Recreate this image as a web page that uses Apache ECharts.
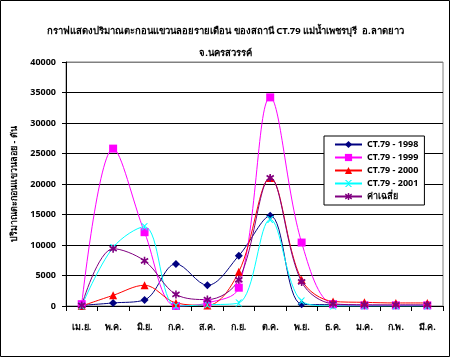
<!DOCTYPE html>
<html><head><meta charset="utf-8">
<script src="https://cdn.jsdelivr.net/npm/echarts@6/dist/echarts.min.js"></script>
<style>html,body{margin:0;padding:0;background:#fff}#c{width:451px;height:358px}</style>
</head><body><div id="c"></div>
<script>
const titleLines = ['กราฟแสดงปริมาณตะกอนแขวนลอยรายเดือน ของสถานี CT.79 แม่น้ำเพชรบุรี  อ.ลาดยาว', 'จ.นครสวรรค์'];
const yAxisName = 'ปริมาณตะกอนแขวนลอย - ตัน';
const months = ['เม.ย.','พ.ค.','มิ.ย.','ก.ค.','ส.ค.','ก.ย.','ต.ค.','พ.ย.','ธ.ค.','ม.ค.','ก.พ.','มี.ค.'];
const s1998 = [100, 500, 1000, 6900, 3400, 8250, 14800, 300, 200, 100, 100, 100];
const s1999 = [300, 25800, 12100, 0, 500, 3000, 34200, 10400, 300, 100, 100, 100];
const s2000 = [0, 1750, 3400, 500, 100, 5600, 21000, 4300, 750, 600, 500, 500];
const s2001 = [0, 9600, 13000, 0, 200, 500, 14200, 800, 0, 0, 0, 0];
const sAvg  = [100, 9400, 7400, 1900, 1050, 4300, 21000, 3950, 350, 200, 180, 180];
const seriesNames = ['CT.79 - 1998','CT.79 - 1999','CT.79 - 2000','CT.79 - 2001','ค่าเฉลี่ย'];

const FONT = "'Noto Sans', 'DejaVu Sans', sans-serif";
const xPath = 'path://M0,0L2,0L5,3L8,0L10,0L6,4L6,6L10,10L8,10L5,7L2,10L0,10L4,6L4,4Z';
const starPath = 'path://M4,0L6,0L6,3L9,1L10,3L7,5L10,7L9,9L6,7L6,10L4,10L4,7L1,9L0,7L3,5L0,3L1,1L4,3Z';

function mk(name, data, color, symbol, size){
  return {name, type:'line', data, smooth:0.35, symbol, symbolSize:size,
    lineStyle:{color, width:1}, itemStyle:{color, borderWidth:0}, emphasis:{disabled:true}};
}
const chart = echarts.init(document.getElementById('c'), null, {renderer:'canvas'});
chart.setOption({
  animation:false,
  backgroundColor:'#fff',
  textStyle:{fontFamily:FONT},
  title:{text:titleLines.join('\n'), left:'center', top:15,
    textStyle:{fontSize:9.5, fontWeight:'bold', color:'#000', lineHeight:22, fontFamily:FONT}},
  grid:{left:66, top:62, right:8, bottom:52, show:true, borderColor:'#808080', borderWidth:1, backgroundColor:'#fff'},
  legend:{orient:'vertical', left:324, top:136, width:92, height:75,
    padding:[4,6,4,10], itemGap:4, itemWidth:27, itemHeight:9,
    backgroundColor:'#fff', borderColor:'#000', borderWidth:1,
    textStyle:{fontSize:9, fontWeight:'bold', color:'#000', fontFamily:FONT},
    data:seriesNames},
  xAxis:{type:'category', data:months, boundaryGap:true,
    axisLine:{lineStyle:{color:'#000', width:1}},
    axisTick:{show:true, interval:0, length:5, lineStyle:{color:'#000'}},
    axisLabel:{interval:0, margin:17, fontSize:9, fontWeight:'bold', color:'#000', fontFamily:FONT},
    splitLine:{show:false}},
  yAxis:{type:'value', min:0, max:40000, interval:5000,
    name:yAxisName, nameLocation:'middle', nameGap:41, nameRotate:90,
    nameTextStyle:{fontSize:9, fontWeight:'bold', color:'#000', fontFamily:FONT},
    axisLine:{show:true, lineStyle:{color:'#000'}},
    axisTick:{show:true, length:4, lineStyle:{color:'#000'}},
    axisLabel:{fontSize:9, fontWeight:'bold', color:'#000', margin:10, fontFamily:FONT,
      formatter: v => String(v)},
    splitLine:{show:true, lineStyle:{color:['#000','#000','#000','#000','#000','#000','#000','#000','#808080'], width:1}}},
  graphic:[{type:'rect', shape:{x:0.5, y:0.5, width:449, height:356}, style:{fill:'none', stroke:'#000', lineWidth:1}, silent:true, z:100}],
  series:[
    mk(seriesNames[0], s1998, '#000080', 'diamond', 8),
    mk(seriesNames[1], s1999, '#FF00FF', 'rect', 8),
    mk(seriesNames[2], s2000, '#FF0000', 'triangle', 8),
    mk(seriesNames[3], s2001, '#00FFFF', xPath, 7),
    mk(seriesNames[4], sAvg, '#800080', starPath, 8)
  ]
});
</script></body></html>
